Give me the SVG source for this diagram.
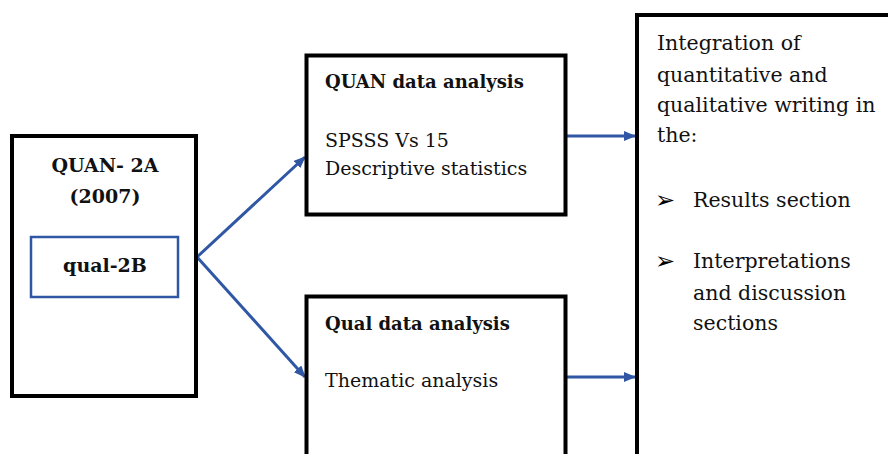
<svg xmlns="http://www.w3.org/2000/svg" width="888" height="454" viewBox="0 0 888 454">
<defs>
<marker id="ah" markerWidth="12" markerHeight="10" refX="11" refY="5" orient="auto" markerUnits="userSpaceOnUse">
<path d="M0,0 L12,5 L0,10 Z" fill="#2F57A4"/>
</marker>
<style>
.box{fill:#fff;stroke:#000;stroke-width:4}
.t{font-family:"DejaVu Serif","Liberation Serif",serif;font-size:19px;fill:#111}
.b{font-weight:bold}
.m{font-size:18px}
.r{font-size:20.5px}
.bul{font-family:"DejaVu Sans",sans-serif;font-size:24px;fill:#000}
.c{stroke:#2F57A4;stroke-width:3;fill:none;marker-end:url(#ah)}
</style>
</defs>
<rect width="888" height="454" fill="#fff"/>
<g id="connectors">
<path class="c" d="M197,257 L305,157"/>
<path class="c" d="M197,257 L305,377"/>
<path class="c" d="M567,136 L635,136"/>
<path class="c" d="M567,377 L635,377"/>
</g>
<g id="quan2a">
<rect class="box" x="12" y="136" width="184" height="260"/>
<text class="t b" x="105" y="172" text-anchor="middle">QUAN- 2A</text>
<text class="t b" x="105" y="203" text-anchor="middle">(2007)</text>
</g>
<g id="qual2b">
<rect x="31" y="237" width="147" height="60" fill="#fff" stroke="#2F57A4" stroke-width="2.5"/>
<text class="t b" x="105" y="272" text-anchor="middle">qual-2B</text>
</g>
<g id="quan-analysis">
<rect class="box" x="306.5" y="55.5" width="259" height="159"/>
<text class="t b m" x="325" y="88">QUAN data analysis</text>
<text class="t" x="325" y="147">SPSSS Vs 15</text>
<text class="t" x="325" y="175">Descriptive statistics</text>
</g>
<g id="qual-analysis">
<rect class="box" x="306.5" y="296.5" width="259" height="170"/>
<text class="t b m" x="325" y="330">Qual data analysis</text>
<text class="t" x="325" y="387">Thematic analysis</text>
</g>
<g id="integration">
<rect class="box" x="637" y="15" width="270" height="460"/>
<text class="t r" x="657" y="50">Integration of</text>
<text class="t r" x="657" y="82">quantitative and</text>
<text class="t r" x="657" y="112">qualitative writing in</text>
<text class="t r" x="657" y="142">the:</text>
<text class="bul" x="655" y="208">➢</text>
<text class="t r" x="693" y="207">Results section</text>
<text class="bul" x="655" y="269">➢</text>
<text class="t r" x="693" y="268">Interpretations</text>
<text class="t r" x="693" y="300">and discussion</text>
<text class="t r" x="693" y="330">sections</text>
</g>
</svg>
